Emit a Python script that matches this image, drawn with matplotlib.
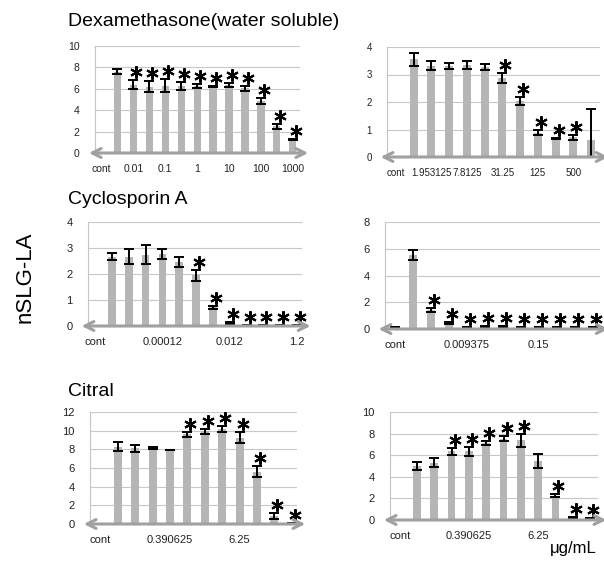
import matplotlib
matplotlib.use('Agg')
import matplotlib.pyplot as plt
from matplotlib import transforms

plt.rcParams['font.family'] = ['Liberation Sans', 'DejaVu Sans']

# Dexamethasone (water soluble) - left
dex1_labels = ['cont', '0.01', '0.1', '1', '10', '100', '1000']
dex1_vals = [7.6, 6.4, 6.2, 6.3, 6.25, 6.27, 6.2, 6.35, 6.05, 4.85, 2.5, 1.3]
dex1_err = [0.25, 0.45, 0.5, 0.58, 0.35, 0.2, 0.07, 0.15, 0.22, 0.27, 0.24, 0.05]
dex1_sig = [0, 1, 1, 1, 1, 1, 1, 1, 1, 1, 1, 1]

# Dexamethasone (water soluble) - right
dex2_labels = ['cont', '1.953125', '7.8125', '31.25', '125', '500']
dex2_vals = [3.55, 3.32, 3.31, 3.35, 3.27, 2.87, 2.03, 0.88, 0.67, 0.72, 0.62]
dex2_err = [0.23, 0.17, 0.1, 0.14, 0.12, 0.18, 0.15, 0.09, 0.03, 0.09, 1.13]
dex2_sig = [0, 0, 0, 0, 0, 1, 1, 1, 1, 1, 0]

# Cyclosporin A - left
cyc1_labels = ['cont', '0.00012', '0.012', '1.2']
cyc1_vals = [2.66, 2.67, 2.75, 2.77, 2.46, 1.95, 0.72, 0.12, 0.02, 0.02, 0.02, 0.02]
cyc1_err = [0.13, 0.29, 0.38, 0.18, 0.19, 0.2, 0.06, 0.03, 0.0, 0.0, 0.0, 0.0]
cyc1_sig = [0, 0, 0, 0, 0, 1, 1, 1, 1, 1, 1, 1]

# Cyclosporin A - right (first value is the control dash)
cyc2_labels = ['cont', '0.009375', '0.15']
cyc2_vals = [0.15, 5.5, 1.45, 0.48, 0.12, 0.2, 0.15, 0.12, 0.1, 0.1, 0.1, 0.12]
cyc2_err = [0.03, 0.37, 0.15, 0.08, 0.02, 0.05, 0.04, 0.03, 0.02, 0.02, 0.02, 0.03]
cyc2_sig = [0, 0, 1, 1, 1, 1, 1, 1, 1, 1, 1, 1]

# Citral - left
cit1_labels = ['cont', '0.390625', '6.25']
cit1_vals = [8.3, 8.1, 8.13, 7.95, 9.6, 9.95, 10.15, 9.25, 5.6, 0.85, 0.1]
cit1_err = [0.5, 0.4, 0.13, 0.03, 0.27, 0.27, 0.3, 0.62, 0.6, 0.3, 0.03]
cit1_sig = [0, 0, 0, 0, 1, 1, 1, 1, 1, 1, 1]

# Citral - right
cit2_labels = ['cont', '0.390625', '6.25']
cit2_vals = [5.0, 5.3, 6.35, 6.35, 7.13, 7.54, 7.37, 5.48, 2.24, 0.25, 0.2]
cit2_err = [0.4, 0.4, 0.3, 0.4, 0.23, 0.2, 0.62, 0.62, 0.14, 0.05, 0.03]
cit2_sig = [0, 0, 1, 1, 1, 1, 1, 0, 1, 1, 1]

W, H = 604, 563
fig = plt.figure(figsize=(W / 100, H / 100), dpi=100)


def panel(px, vals, errs, sig, labels, start, label_step, ymax, ystep, xlim, fs):
    l, r, t, b = px
    ax = fig.add_axes([l / W, 1 - b / H, (r - l) / W, (b - t) / H])
    pos = list(range(start, start + len(vals)))
    lower = [min(e, v) for e, v in zip(errs, vals)]
    ax.bar(pos, vals, width=0.45, color='#b5b5b5', zorder=2)
    ax.errorbar(pos, vals, yerr=[lower, errs], fmt='none', ecolor='black',
                elinewidth=1.4, capsize=3.4, capthick=1.4, zorder=3)
    # asterisks just above the error bar, a bit to the right
    star_tr = transforms.offset_copy(ax.transData, fig=fig, x=3, y=8, units='dots')
    sx = [p for p, s in zip(pos, sig) if s]
    sy = [v + e for v, e, s in zip(vals, errs, sig) if s]
    ax.plot(sx, sy, linestyle='none', marker=(6, 2, 0), markersize=9,
            markeredgewidth=1.5, color='black', transform=star_tr, zorder=4,
            clip_on=False)
    ax.set_xlim(*xlim)
    ax.set_ylim(0, ymax)
    ax.set_yticks(range(0, ymax + 1, ystep))
    ax.set_xticks([i * label_step for i in range(len(labels))])
    ax.set_xticklabels(labels)
    ax.tick_params(length=0, labelsize=fs, colors='#222222')
    ax.tick_params(axis='y', pad=11)
    ax.tick_params(axis='x', pad=8)
    for sp in ['top', 'right', 'bottom']:
        ax.spines[sp].set_visible(False)
    ax.spines['left'].set_color('#c4c4c4')
    ax.spines['left'].set_linewidth(0.8)
    ax.yaxis.grid(True, color='#c8c8c8', linewidth=0.8, zorder=0)
    ax.set_axisbelow(True)
    ax.annotate('', xy=(1.04, 0), xytext=(-0.03, 0),
                xycoords=('axes fraction', 'data'),
                textcoords=('axes fraction', 'data'),
                arrowprops=dict(arrowstyle='<->', color='#a0a0a0', lw=2.2,
                                mutation_scale=16, shrinkA=0, shrinkB=0),
                zorder=5, annotation_clip=False)
    return ax


panel((95, 300, 46, 153), dex1_vals, dex1_err, dex1_sig, dex1_labels, 1, 2,
      10, 2, (-0.4, 12.45), 7.5)
ax2 = panel((387, 600, 47, 157), dex2_vals, dex2_err, dex2_sig, dex2_labels, 1, 2,
            4, 1, (-0.5, 11.5), 7)
for lab in ax2.get_xticklabels():
    lab.set_bbox(dict(facecolor='white', edgecolor='none', pad=0))
panel((88, 302, 222, 326), cyc1_vals, cyc1_err, cyc1_sig, cyc1_labels, 1, 4,
      4, 1, (-0.43, 12.3), 8)
panel((385, 600, 222, 329), cyc2_vals, cyc2_err, cyc2_sig, cyc2_labels, 0, 4,
      8, 2, (-0.55, 11.4), 8)
panel((90, 297, 412, 524), cit1_vals, cit1_err, cit1_sig, cit1_labels, 1, 4,
      12, 2, (-0.6, 11.3), 8)
panel((390, 598, 412, 520), cit2_vals, cit2_err, cit2_sig, cit2_labels, 1, 4,
      10, 2, (-0.56, 11.46), 8)

fig.text(68 / W, 1 - 22 / H, 'Dexamethasone(water soluble)', fontsize=14,
         ha='left', va='center')
fig.text(68 / W, 1 - 199 / H, 'Cyclosporin A', fontsize=14, ha='left', va='center')
fig.text(68 / W, 1 - 392 / H, 'Citral', fontsize=14, ha='left', va='center')
fig.text(25 / W, 1 - 277 / H, 'nSLG-LA', fontsize=16, rotation=90,
         ha='center', va='center')
fig.text(573 / W, 1 - 548 / H, 'μg/mL', fontsize=12, ha='center', va='center')

fig.savefig('out.png', dpi=100)
